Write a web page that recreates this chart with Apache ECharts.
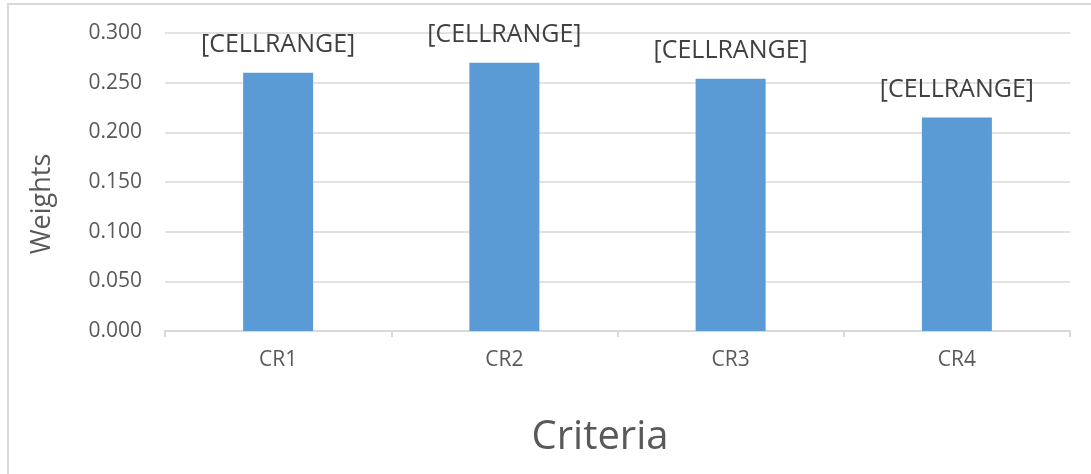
<!DOCTYPE html>
<html>
<head>
<meta charset="utf-8">
<script src="https://cdn.jsdelivr.net/npm/echarts@6/dist/echarts.min.js"></script>
<style>
  html, body { margin: 0; padding: 0; background: #fff; }
  #chart { width: 1091px; height: 474px; }
</style>
</head>
<body>
<div id="chart"></div>
<script>
const categories = ['CR1', 'CR2', 'CR3', 'CR4']
const weights = [0.260, 0.270, 0.254, 0.215]
const barLabels = ['[CELLRANGE]', '[CELLRANGE]', '[CELLRANGE]', '[CELLRANGE]']

const font = '"Open Sans", "Noto Sans", sans-serif'

const chart = echarts.init(document.getElementById('chart'))
const option = {
  backgroundColor: '#fff',
  textStyle: { fontFamily: font },
  grid: {
    left: 165,
    right: 21,
    top: 33,
    bottom: 143,
    containLabel: false
  },
  graphic: [
    {
      type: 'rect',
      left: 7,
      top: 3,
      z: -1,
      shape: { width: 1200, height: 600 },
      style: { fill: 'transparent', stroke: '#d9d9d9', lineWidth: 2 }
    },
    {
      type: 'text',
      x: 42,
      y: 204,
      rotation: Math.PI / 2,
      style: {
        text: 'Weights',
        font: '27px ' + font,
        fill: '#595959',
        align: 'center',
        verticalAlign: 'middle'
      }
    },
    {
      type: 'text',
      x: 600,
      y: 438,
      style: {
        text: 'Criteria',
        font: '40px ' + font,
        fill: '#595959',
        align: 'center',
        verticalAlign: 'middle'
      }
    }
  ],
  xAxis: {
    type: 'category',
    data: categories,
    axisLine: { lineStyle: { color: '#d9d9d9', width: 2 } },
    axisTick: { show: true, length: 6, lineStyle: { color: '#d9d9d9', width: 2 } },
    axisLabel: { color: '#595959', fontSize: 21, margin: 19, fontFamily: font }
  },
  yAxis: {
    type: 'value',
    min: 0,
    max: 0.3,
    interval: 0.05,
    axisLine: { show: false },
    axisTick: { show: false },
    axisLabel: {
      color: '#595959',
      fontSize: 21,
      margin: 23,
      fontFamily: font,
      formatter: v => v.toFixed(3)
    },
    splitLine: { lineStyle: { color: '#d9d9d9', width: 1.5 } }
  },
  series: [
    {
      type: 'bar',
      data: weights,
      barWidth: 70,
      itemStyle: { color: '#5b9bd5' },
      label: {
        show: true,
        position: 'top',
        distance: 15,
        fontSize: 25,
        color: '#404040',
        fontFamily: font,
        formatter: p => barLabels[p.dataIndex]
      }
    }
  ]
}
chart.setOption(option)
</script>
</body>
</html>
